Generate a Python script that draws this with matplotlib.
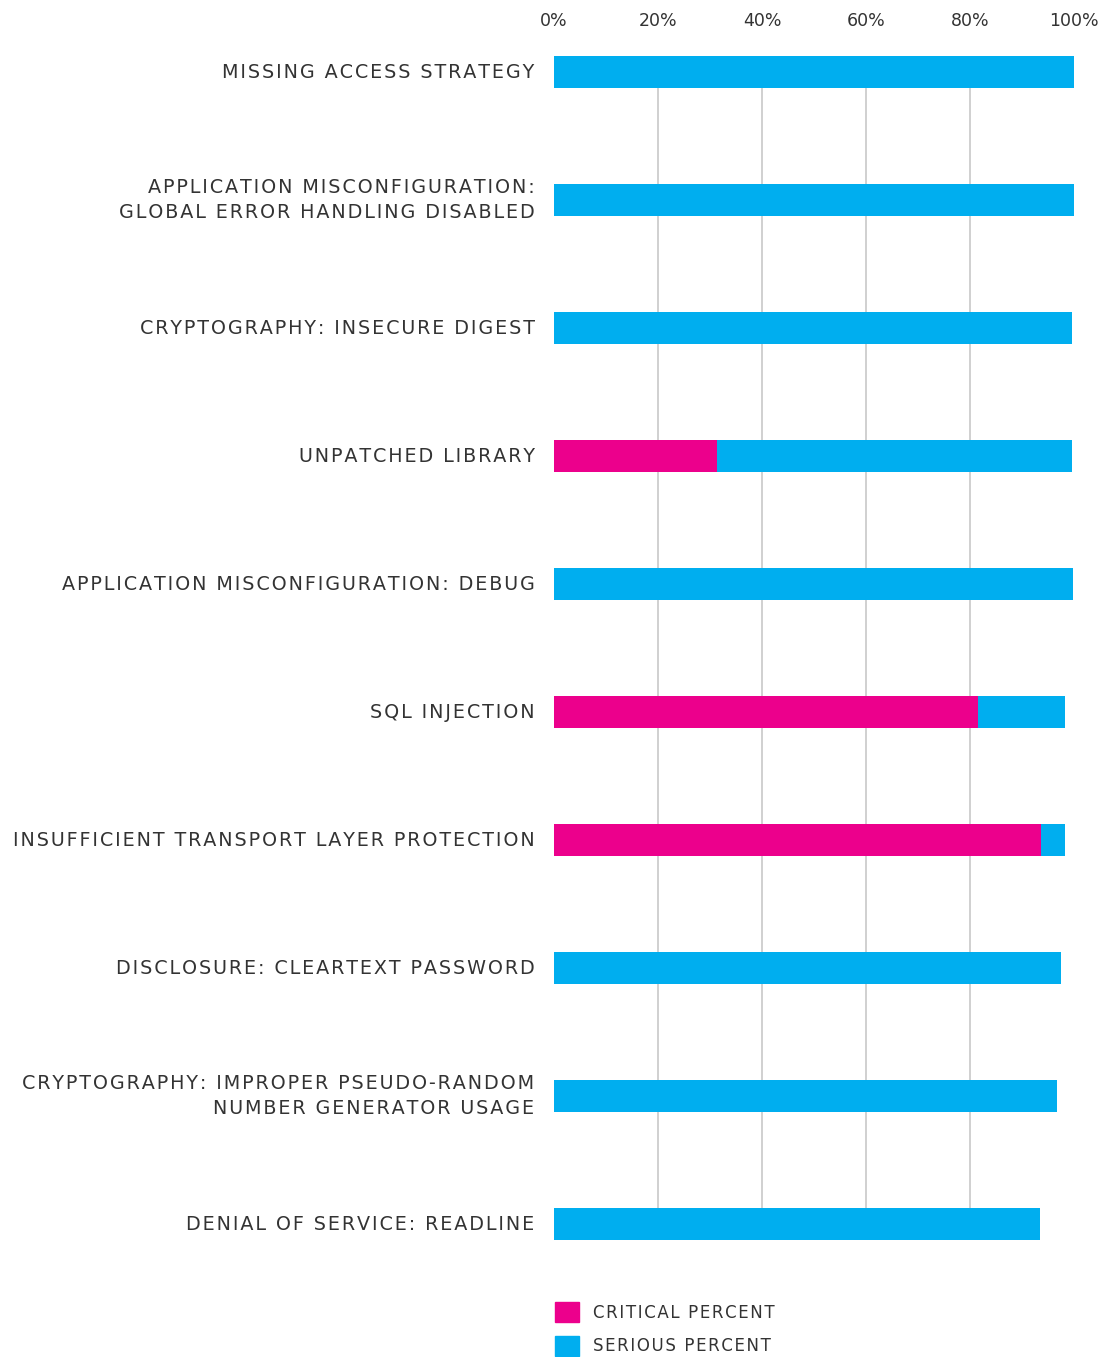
import matplotlib
matplotlib.use("Agg")
import matplotlib.pyplot as plt
from matplotlib.patches import Patch

plt.rcParams.update({"font.family": "DejaVu Sans", "font.size": 12})

categories = [
    "MISSING ACCESS STRATEGY",
    "APPLICATION MISCONFIGURATION:\nGLOBAL ERROR HANDLING DISABLED",
    "CRYPTOGRAPHY: INSECURE DIGEST",
    "UNPATCHED LIBRARY",
    "APPLICATION MISCONFIGURATION: DEBUG",
    "SQL INJECTION",
    "INSUFFICIENT TRANSPORT LAYER PROTECTION",
    "DISCLOSURE: CLEARTEXT PASSWORD",
    "CRYPTOGRAPHY: IMPROPER PSEUDO-RANDOM\nNUMBER GENERATOR USAGE",
    "DENIAL OF SERVICE: READLINE",
]
critical = [0, 0, 0, 31.3, 0, 81.6, 93.7, 0, 0, 0]
serious = [100, 100, 99.6, 68.4, 99.8, 16.6, 4.5, 97.5, 96.7, 93.5]

ticks = [0, 20, 40, 60, 80, 100]
tick_labels = ["0%", "20%", "40%", "60%", "80%", "100%"]

c_crit = "#EC008C"
c_ser = "#00AEEF"
txt = "#333333"


def track(s):
    # fake letter spacing with hair spaces
    return "\n".join("\u200a".join(line) for line in s.split("\n"))


W, H = 1102, 1357
fig = plt.figure(figsize=(W / 100, H / 100), dpi=100)
ax = fig.add_axes([554 / W, 1 - 1240 / H, 520 / W, (1240 - 56) / H])

y = list(range(len(categories)))
bh = 0.25
ax.barh(y, critical, height=bh, color=c_crit, zorder=3)
ax.barh(y, serious, left=critical, height=bh, color=c_ser, zorder=3)

for g in [20, 40, 60, 80]:
    ax.axvline(g, color="#c8c8c8", lw=1.2, zorder=1)

ax.set_xlim(0, 100)
ax.set_ylim(len(categories) - 1 + bh / 2, -bh / 2)

ax.xaxis.tick_top()
ax.set_xticks(ticks)
ax.set_xticklabels(tick_labels, color=txt, fontsize=12.5)
ax.tick_params(axis="x", length=0, pad=19)
ax.set_yticks(y)
ax.set_yticklabels([track(c) for c in categories], color=txt, fontsize=13.8,
                   linespacing=1.4, va="center")
ax.tick_params(axis="y", length=0, pad=14)
for s in ax.spines.values():
    s.set_visible(False)

handles = [Patch(color=c_crit, label=track("CRITICAL PERCENT")),
           Patch(color=c_ser, label=track("SERIOUS PERCENT"))]
leg = fig.legend(handles=handles, loc="upper left", bbox_to_anchor=(540 / W, 1 - 1287 / H),
                 frameon=False, fontsize=12, handlelength=1.45, handleheight=1.5,
                 handletextpad=0.85, labelspacing=0.8, labelcolor=txt)

fig.savefig("out.png", dpi=100, facecolor="white")
